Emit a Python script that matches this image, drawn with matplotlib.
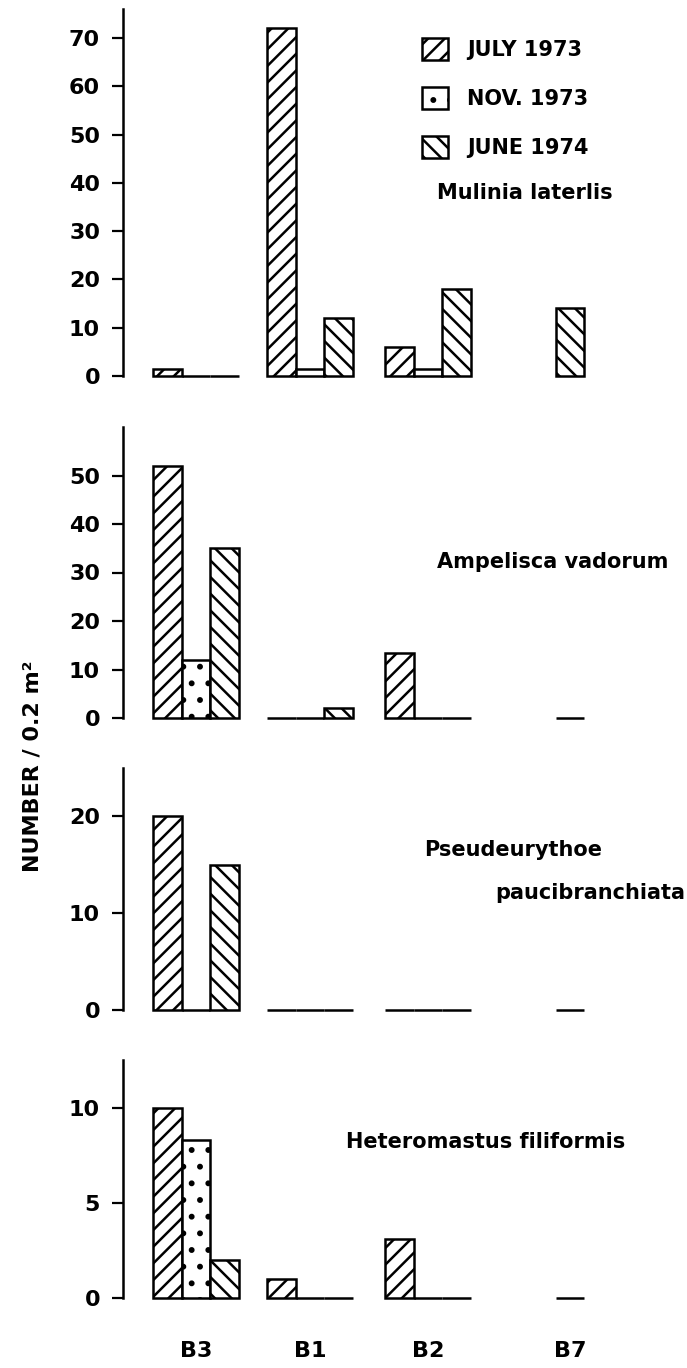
import matplotlib
matplotlib.use("Agg")
import matplotlib.pyplot as plt

# ---- data ----
STATIONS = ['B3', 'B1', 'B2', 'B7']
SERIES = ['JULY 1973', 'NOV. 1973', 'JUNE 1974']
SPECIES = ['Mulinia laterlis', 'Ampelisca vadorum',
           'Pseudeurythoe', 'Heteromastus filiformis']

# None = not sampled
mulinia_july = [1.5, 72, 6, None]
mulinia_nov = [0, 1.5, 1.5, None]
mulinia_june = [0, 12, 18, 14]

ampelisca_july = [52, 0, 13.5, None]
ampelisca_nov = [12, 0, 0, None]
ampelisca_june = [35, 2, 0, 0]

pseudeurythoe_july = [20, 0, 0, None]
pseudeurythoe_nov = [0, 0, 0, None]
pseudeurythoe_june = [15, 0, 0, 0]

heteromastus_july = [10, 1, 3.1, None]
heteromastus_nov = [8.3, 0, 0, None]
heteromastus_june = [2, 0, 0, 0]

PANELS = [
    (mulinia_july, mulinia_nov, mulinia_june),
    (ampelisca_july, ampelisca_nov, ampelisca_june),
    (pseudeurythoe_july, pseudeurythoe_nov, pseudeurythoe_june),
    (heteromastus_july, heteromastus_nov, heteromastus_june),
]
YTICKS = [[0, 10, 20, 30, 40, 50, 60, 70], [0, 10, 20, 30, 40, 50],
          [0, 10, 20], [0, 5, 10]]
YMAX = [76, 60, 25, 12.5]

# ---- layout (pixels of a 687x1368 canvas) ----
W, H = 687, 1368
AXIS_X = 123
PANEL_PX = [(9, 376), (427, 718), (768, 1010), (1060, 1298)]  # top, bottom
BAR_PX = 28.5
GROUP_POS = [2.56, 6.56, 10.7, 15.68]
HATCHES = ['//', '.', '\\\\']

plt.rcParams['font.family'] = 'DejaVu Sans'
plt.rcParams['font.weight'] = 'bold'
plt.rcParams['hatch.linewidth'] = 1.8
plt.rcParams['axes.linewidth'] = 1.8

fig = plt.figure(figsize=(W / 100, H / 100), dpi=100)

axes = []
for i, (series, (top, bot)) in enumerate(zip(PANELS, PANEL_PX)):
    ax = fig.add_axes([AXIS_X / W, 1 - bot / H, (W - AXIS_X) / W, (bot - top) / H])
    ax.set_xlim(0, (W - AXIS_X) / BAR_PX)
    ax.set_ylim(0, YMAX[i])
    for s in ['top', 'right', 'bottom']:
        ax.spines[s].set_visible(False)

    handles = []
    for k, (vals, hatch) in enumerate(zip(series, HATCHES)):
        xs, hs = [], []
        for g, v in enumerate(vals):
            if v is None:
                continue
            n_present = sum(s[g] is not None for s in series)
            off = (k - 1) if n_present == 3 else 0
            xs.append(GROUP_POS[g] + off)
            hs.append(v)
        bars = ax.bar(xs, hs, width=1.0, facecolor='white', edgecolor='black',
                      linewidth=1.8, hatch=hatch, clip_on=False, label=SERIES[k])
        handles.append(bars)

    ax.set_yticks(YTICKS[i])
    ax.tick_params(axis='y', length=8, width=1.6, pad=8.5, labelsize=16)
    if i == 3:
        ax.set_xticks(GROUP_POS, STATIONS)
        ax.tick_params(axis='x', length=0, pad=31, labelsize=16)
    else:
        ax.set_xticks([])
    axes.append((ax, handles))

# legend in the top panel
ax0, h0 = axes[0]
ax0.legend(handles=h0, labels=SERIES, loc='upper left',
           bbox_to_anchor=(422 / W, 1 - 38 / H), bbox_transform=fig.transFigure,
           frameon=False, fontsize=15, handlelength=1.25, handleheight=1.25,
           handletextpad=0.9, labelspacing=1.3, borderpad=0, borderaxespad=0)

# species names
fig.text(525 / W, 1 - 193 / H, SPECIES[0], ha='center', va='center', fontsize=15)
fig.text(553 / W, 1 - 562 / H, SPECIES[1], ha='center', va='center', fontsize=15)
fig.text(513 / W, 1 - 850 / H, SPECIES[2], ha='center', va='center', fontsize=15)
fig.text(685 / W, 1 - 893 / H, 'paucibranchiata', ha='right', va='center', fontsize=15)
fig.text(486 / W, 1 - 1142 / H, SPECIES[3], ha='center', va='center', fontsize=15)

fig.text(33 / W, 1 - 766 / H, 'NUMBER / 0.2 m²', rotation=90,
         ha='center', va='center', fontsize=16)

fig.savefig('out.png', dpi=100, facecolor='white')
